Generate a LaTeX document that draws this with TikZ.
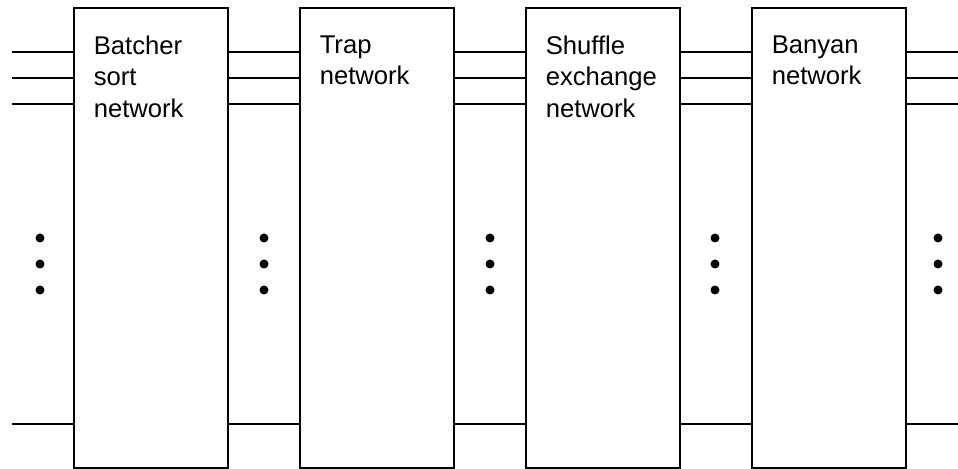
\documentclass[tikz,border=0pt]{standalone}
\usepackage{fontspec}
\setmainfont{Liberation Sans}
\begin{document}
\begin{tikzpicture}[x=0.02cm, y=-0.02cm,
		stage/.style={draw, line width=0.7pt, minimum width=3.08cm, minimum height=9.2cm, inner sep=0pt},
		stagelabel/.style={anchor=north west, inner sep=0pt, align=left, font=\fontsize{14.6}{17.9}\selectfont},
		wire/.style={line width=1.1pt}]
		\useasboundingbox (0,0) rectangle (958,469);

		% Four stages of the switch
		\node[stage] (batcher) at (151,238) {};
		\node[stage] (trap)    at (377,238) {};
		\node[stage] (shuffle) at (603,238) {};
		\node[stage] (banyan)  at (829,238) {};

		\node[stagelabel] (batcherlabel) at ([shift={(20,28)}]batcher.north west) {Batcher\\sort\\network};
		\node[stagelabel] (traplabel)    at ([shift={(20,28)}]trap.north west)    {Trap\\network};
		\node[stagelabel] (shufflelabel) at ([shift={(20,28)}]shuffle.north west) {Shuffle\\exchange\\network};
		\node[stagelabel] (banyanlabel)  at ([shift={(20,28)}]banyan.north west)  {Banyan\\network};

		% Free ends of the lines
		\coordinate (in)  at (12,238);
		\coordinate (out) at (958,238);

		% Lines between the stages
		\foreach \a/\b in {in/batcher.west, batcher.east/trap.west, trap.east/shuffle.west, shuffle.east/banyan.west, banyan.east/out} {
			\foreach \y in {52,78,104,424} {
				\draw[wire] (\a |- 0,\y) -- (\b |- 0,\y);
			}
		}

		% Vertical dots
		\foreach \x in {40,264,490,715,938} {
			\foreach \y in {238,264,290} {
				\fill (\x,\y) circle (0.09cm);
			}
		}
	\end{tikzpicture}
\end{document}
